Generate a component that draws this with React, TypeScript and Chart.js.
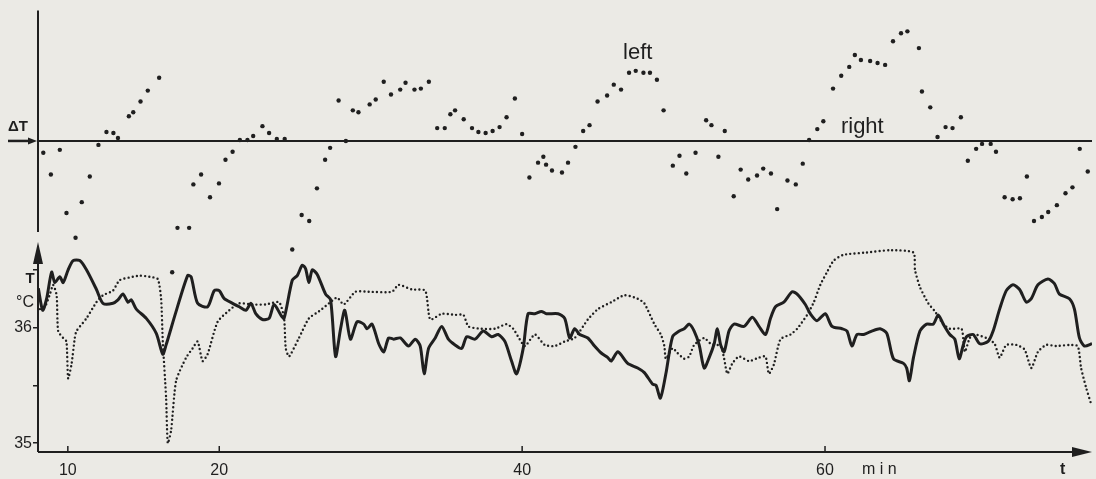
import { useEffect, useRef } from 'react';
import { Chart, registerables } from 'chart.js';
Chart.register(...registerables);

const PAPER = '#ebeae5';
const INK = '#1f1f1f';
const FONT = '"Liberation Sans", Arial, sans-serif';

// x axis (minutes)
const xTicks = [10, 20, 40, 60];
const xTickLabels = ['10', '20', '40', '60'];
// temperature axis (°C)
const tTicks = [35, 35.5, 36, 36.5];
const tTickLabels = ['35', '', '36', ''];

// ΔT (arbitrary units, 0 = baseline) : [minute, ΔT]
const deltaT: number[][] = [
  [8.38, -1.2], [8.88, -3.4], [9.47, -0.9], [9.91, -7.3], [10.51, -9.8], [10.92, -6.2], [11.45, -3.6], [12.02, -0.4],
  [12.55, 0.9], [13.01, 0.8], [13.31, 0.3], [14.03, 2.5], [14.32, 2.9], [14.8, 4.0], [15.28, 5.1], [16.03, 6.4],
  [16.89, -13.3], [17.24, -8.8], [18.01, -8.8], [18.29, -4.4], [18.8, -3.4], [19.39, -5.7], [19.98, -4.3], [20.41, -1.9],
  [20.88, -1.1], [21.36, 0.1], [21.86, 0.1], [22.24, 0.5], [22.85, 1.5], [23.29, 0.8], [23.8, 0.2], [24.32, 0.2],
  [24.82, -11.0], [25.44, -7.5], [25.94, -8.1], [26.45, -4.8], [26.99, -1.9], [27.32, -0.7], [27.88, 4.1], [28.36, 0.0],
  [28.82, 3.1], [29.19, 2.9], [29.93, 3.7], [30.33, 4.2], [30.86, 6.0], [31.34, 4.7], [31.95, 5.2], [32.3, 5.9],
  [32.89, 5.2], [33.31, 5.3], [33.84, 6.0], [34.39, 1.3], [34.89, 1.3], [35.26, 2.7], [35.57, 3.1], [36.14, 2.2],
  [36.69, 1.3], [37.11, 0.9], [37.59, 0.8], [38.05, 1.0], [38.51, 1.4], [38.97, 2.4], [39.52, 4.3], [40.0, 0.7],
  [40.48, -3.7], [41.05, -2.2], [41.4, -1.6], [41.58, -2.4], [41.97, -3.0], [42.63, -3.2], [43.03, -2.2], [43.52, -0.6],
  [44.03, 1.0], [44.45, 1.6], [44.98, 4.0], [45.61, 4.6], [46.05, 5.7], [46.53, 5.2], [47.06, 6.9], [47.5, 7.1],
  [48.01, 6.9], [48.44, 6.9], [48.9, 6.2], [49.34, 3.1], [49.95, -2.5], [50.39, -1.5], [50.84, -3.3], [51.45, -1.2],
  [52.15, 2.1], [52.5, 1.6], [52.96, -1.6], [53.38, 1.0], [53.97, -5.6], [54.43, -2.9], [54.93, -3.9], [55.51, -3.5],
  [55.92, -2.8], [56.43, -3.3], [56.84, -6.9], [57.52, -4.0], [58.07, -4.4], [58.53, -2.3], [58.95, 0.1], [59.49, 1.2],
  [59.89, 2.0], [60.53, 5.3], [61.07, 6.6], [61.6, 7.5], [61.97, 8.7], [62.37, 8.2], [62.98, 8.1], [63.47, 7.9],
  [63.97, 7.7], [64.49, 10.1], [65.02, 10.9], [65.44, 11.1], [66.2, 9.4], [66.4, 5.0], [66.95, 3.4], [67.43, 0.4],
  [67.96, 1.4], [68.42, 1.3], [68.97, 2.4], [69.43, -2.0], [69.98, -0.8], [70.37, -0.3], [70.94, -0.3], [71.29, -1.1],
  [71.86, -5.7], [72.39, -5.9], [72.87, -5.8], [73.33, -3.6], [73.8, -8.1], [74.32, -7.7], [74.74, -7.2], [75.31, -6.5],
  [75.88, -5.3], [76.34, -4.7], [76.82, -0.8], [77.35, -3.1],
];

// solid curve : [minute, °C]
const solidT: number[][] = [
  [8.05, 36.34], [8.34, 36.15], [8.6, 36.25], [8.93, 36.48], [9.14, 36.39], [9.47, 36.44], [9.69, 36.39], [10.02, 36.5],
  [10.35, 36.58], [10.79, 36.58], [11.23, 36.5], [11.89, 36.33], [12.32, 36.21], [12.98, 36.21], [13.31, 36.24], [13.64, 36.29],
  [13.97, 36.22], [14.19, 36.24], [14.52, 36.16], [15.18, 36.08], [15.84, 35.95], [16.27, 35.77], [16.49, 35.85], [17.15, 36.14],
  [17.91, 36.45], [18.14, 36.44], [18.57, 36.21], [19.23, 36.18], [19.67, 36.32], [20.0, 36.32], [20.33, 36.25], [20.88, 36.21],
  [21.32, 36.18], [21.76, 36.15], [22.09, 36.21], [22.41, 36.12], [22.85, 36.07], [23.29, 36.08], [23.62, 36.2], [24.06, 36.11],
  [24.28, 36.08], [24.82, 36.41], [25.15, 36.45], [25.48, 36.54], [25.7, 36.51], [25.92, 36.39], [26.14, 36.5], [26.47, 36.46],
  [27.02, 36.29], [27.35, 36.24], [27.68, 35.75], [28.01, 35.99], [28.29, 36.15], [28.66, 35.9], [29.1, 36.05], [29.54, 36.03],
  [29.76, 35.99], [30.09, 36.03], [30.53, 35.86], [30.86, 35.79], [31.18, 35.91], [31.51, 35.9], [31.95, 35.91], [32.5, 35.84],
  [32.94, 35.9], [33.27, 35.84], [33.53, 35.6], [33.82, 35.82], [34.26, 35.91], [34.69, 36.01], [35.13, 35.9], [35.57, 35.85],
  [36.01, 35.82], [36.34, 35.92], [36.89, 35.9], [37.43, 35.97], [37.98, 35.92], [38.42, 35.94], [38.86, 35.88], [39.3, 35.71],
  [39.63, 35.6], [40.07, 35.82], [40.39, 36.12], [40.84, 36.12], [41.27, 36.14], [41.6, 36.12], [42.37, 36.12], [42.81, 36.08],
  [43.14, 35.91], [43.47, 35.99], [43.8, 35.94], [44.34, 35.91], [44.78, 35.84], [45.22, 35.78], [45.66, 35.74], [45.88, 35.71],
  [46.32, 35.79], [46.97, 35.69], [47.63, 35.65], [48.07, 35.61], [48.62, 35.51], [48.84, 35.5], [49.13, 35.39], [49.49, 35.6],
  [49.93, 35.92], [50.38, 35.97], [50.7, 35.99], [51.03, 36.03], [51.36, 35.97], [51.69, 35.85], [52.02, 35.65], [52.35, 35.74],
  [52.68, 35.86], [52.89, 35.99], [53.11, 35.85], [53.34, 35.79], [53.66, 35.97], [53.99, 36.03], [54.65, 36.01], [55.2, 36.09],
  [55.64, 36.01], [56.07, 35.94], [56.4, 36.08], [56.73, 36.18], [57.28, 36.22], [57.83, 36.31], [58.16, 36.29], [58.7, 36.2],
  [59.03, 36.12], [59.47, 36.06], [60.02, 36.12], [60.46, 36.01], [61.12, 35.99], [61.45, 35.97], [61.78, 35.84], [62.11, 35.94],
  [62.55, 35.94], [63.09, 35.97], [63.64, 35.99], [64.08, 35.95], [64.52, 35.73], [65.18, 35.69], [65.39, 35.65], [65.57, 35.54],
  [65.84, 35.74], [66.27, 35.97], [66.71, 36.03], [67.15, 36.03], [67.48, 36.11], [67.81, 36.03], [68.24, 35.94], [68.57, 35.9],
  [68.86, 35.73], [69.13, 35.85], [69.34, 35.92], [69.78, 35.94], [70.22, 35.86], [70.77, 35.88], [71.1, 35.97], [71.53, 36.16],
  [71.97, 36.32], [72.41, 36.37], [72.85, 36.33], [73.29, 36.22], [73.62, 36.25], [74.06, 36.37], [74.72, 36.42], [75.15, 36.38],
  [75.48, 36.29], [76.14, 36.25], [76.47, 36.16], [76.8, 35.91], [77.13, 35.84], [77.63, 35.86],
];

// dotted curve : [minute, °C]
const dottedT: number[][] = [
  [8.16, 36.16], [8.49, 36.18], [8.82, 36.29], [9.03, 36.37], [9.26, 36.28], [9.36, 35.97], [9.69, 35.91], [9.91, 35.88],
  [10.02, 35.56], [10.24, 35.68], [10.46, 35.91], [10.57, 35.97], [11.23, 36.08], [11.89, 36.22], [12.32, 36.28], [12.98, 36.32],
  [13.42, 36.41], [14.3, 36.44], [14.74, 36.45], [15.39, 36.44], [15.94, 36.42], [16.16, 36.25], [16.27, 35.88], [16.49, 35.39],
  [16.6, 35.0], [16.82, 35.11], [17.15, 35.54], [17.81, 35.74], [18.24, 35.82], [18.57, 35.88], [18.9, 35.71], [19.23, 35.77],
  [19.89, 36.05], [20.66, 36.15], [21.32, 36.21], [22.19, 36.2], [23.07, 36.2], [23.95, 36.22], [24.28, 36.08], [24.39, 35.82],
  [24.61, 35.75], [25.26, 35.91], [25.92, 36.08], [26.58, 36.14], [27.24, 36.21], [27.78, 36.26], [28.22, 36.2], [28.99, 36.31],
  [29.87, 36.31], [31.4, 36.31], [31.84, 36.37], [32.72, 36.33], [33.6, 36.32], [33.93, 36.07], [34.69, 36.12], [35.57, 36.11],
  [36.12, 36.11], [36.45, 36.01], [37.32, 35.99], [38.2, 35.99], [38.97, 36.03], [39.41, 35.99], [39.74, 35.92], [40.18, 35.84],
  [40.84, 35.94], [41.49, 35.85], [42.15, 35.84], [42.81, 35.88], [43.47, 35.91], [44.34, 36.07], [45.0, 36.16], [45.88, 36.22],
  [46.76, 36.28], [47.63, 36.25], [48.07, 36.21], [48.73, 36.03], [49.16, 35.94], [49.39, 35.84], [49.49, 35.73], [49.93, 35.82],
  [50.26, 35.78], [50.7, 35.73], [51.03, 35.75], [51.36, 35.85], [52.02, 35.91], [52.45, 35.86], [53.11, 35.84], [53.34, 35.73],
  [53.55, 35.6], [53.88, 35.69], [54.32, 35.75], [54.98, 35.71], [55.64, 35.74], [56.07, 35.75], [56.29, 35.6], [56.62, 35.68],
  [57.06, 35.9], [57.72, 35.94], [58.16, 35.99], [58.82, 36.11], [59.26, 36.22], [59.69, 36.37], [60.13, 36.48], [60.57, 36.58],
  [61.23, 36.63], [62.76, 36.65], [64.3, 36.67], [65.84, 36.65], [65.94, 36.5], [66.27, 36.35], [66.82, 36.21], [67.26, 36.14],
  [67.81, 36.03], [68.24, 35.99], [69.01, 35.99], [69.13, 35.9], [69.24, 35.79], [69.56, 35.91], [69.89, 35.94], [70.66, 35.91],
  [71.2, 35.86], [71.53, 35.74], [71.97, 35.85], [72.63, 35.85], [73.18, 35.81], [73.62, 35.65], [74.06, 35.79], [74.61, 35.85],
  [75.26, 35.84], [76.14, 35.85], [76.69, 35.84], [76.91, 35.65], [77.24, 35.48], [77.57, 35.34],
];

const toXY = (arr: number[][]) => arr.map(([x, y]) => ({ x, y }));

const deco = {
  id: 'deco',
  beforeDraw(c: any) {
    const ctx = c.ctx;
    ctx.save();
    ctx.fillStyle = PAPER;
    ctx.fillRect(0, 0, c.width, c.height);
    ctx.restore();
  },
  afterDraw(c: any) {
    const { ctx, chartArea: ca, scales } = c;
    const xs = scales.x, yD = scales.yD;
    const line = (x1: number, y1: number, x2: number, y2: number) => {
      ctx.beginPath(); ctx.moveTo(x1, y1); ctx.lineTo(x2, y2); ctx.stroke();
    };
    const tri = (pts: number[][]) => {
      ctx.beginPath(); ctx.moveTo(pts[0][0], pts[0][1]);
      for (let i = 1; i < pts.length; i++) ctx.lineTo(pts[i][0], pts[i][1]);
      ctx.closePath(); ctx.fill();
    };
    ctx.save();
    ctx.strokeStyle = INK; ctx.fillStyle = INK; ctx.lineWidth = 2;
    const L = ca.left;
    // upper panel vertical axis
    line(L, ca.top, L, 232);
    // ΔT baseline
    const y0 = yD.getPixelForValue(0);
    line(L, y0, ca.right, y0);
    // ΔT arrow
    ctx.lineWidth = 2.5;
    line(8, y0, L - 6, y0);
    tri([[L - 1, y0], [L - 10, y0 - 3.5], [L - 10, y0 + 3.5]]);
    ctx.lineWidth = 2;
    // lower panel vertical axis with arrow
    line(L, ca.bottom, L, 258);
    tri([[L, 242], [L - 5, 264], [L + 5, 264]]);
    // x axis with arrow
    line(L, ca.bottom, ca.right - 14, ca.bottom);
    tri([[ca.right, ca.bottom], [ca.right - 20, ca.bottom - 5], [ca.right - 20, ca.bottom + 5]]);
    // x tick marks
    ctx.lineWidth = 1.5;
    for (const v of xTicks) {
      const px = xs.getPixelForValue(v);
      line(px, ca.bottom, px, ca.bottom - 6);
    }
    // texts
    ctx.textBaseline = 'alphabetic';
    ctx.font = `bold 15px ${FONT}`;
    ctx.textAlign = 'left';
    ctx.fillText('ΔT', 8, 131);
    ctx.font = `bold 15px ${FONT}`;
    ctx.textAlign = 'center';
    ctx.fillText('T', 30, 283);
    ctx.font = `16px ${FONT}`;
    ctx.textAlign = 'right';
    ctx.fillText('°C', 34, 307);
    ctx.font = `22px ${FONT}`;
    ctx.textAlign = 'center';
    ctx.fillText('left', xs.getPixelForValue(47.63), yD.getPixelForValue(8.3));
    ctx.textAlign = 'left';
    ctx.fillText('right', xs.getPixelForValue(61.05), yD.getPixelForValue(0.8));
    ctx.font = `16px ${FONT}`;
    ctx.fillText('m i n', 862, 474);
    ctx.font = `bold 16px ${FONT}`;
    ctx.fillText('t', 1060, 474);
    ctx.restore();
  },
};

export default function App() {
  const ref = useRef<HTMLCanvasElement>(null);
  useEffect(() => {
    document.body.style.margin = '0';
    document.body.style.background = PAPER;
    const chart = new Chart(ref.current!, {
      type: 'line',
      data: {
        datasets: [
          {
            label: 'ΔT',
            data: toXY(deltaT),
            yAxisID: 'yD',
            showLine: false,
            pointRadius: 2.2,
            pointBackgroundColor: INK,
            pointBorderWidth: 0,
          },
          {
            label: 'dotted',
            data: toXY(dottedT),
            yAxisID: 'yT',
            borderColor: INK,
            borderWidth: 2.4,
            borderDash: [0, 4.2],
            borderCapStyle: 'round',
            pointRadius: 0,
            tension: 0.2,
          },
          {
            label: 'solid',
            data: toXY(solidT),
            yAxisID: 'yT',
            borderColor: INK,
            borderWidth: 3,
            borderJoinStyle: 'round',
            pointRadius: 0,
            tension: 0.25,
          },
        ],
      },
      options: {
        responsive: false,
        animation: false,
        events: [],
        layout: { padding: { top: 5, left: 0, right: 0, bottom: 0 } },
        plugins: { legend: { display: false }, tooltip: { enabled: false } },
        scales: {
          x: {
            type: 'linear',
            min: 8.03,
            max: 77.63,
            afterBuildTicks: (s: any) => { s.ticks = xTicks.map((v) => ({ value: v })); },
            afterFit: (s: any) => { s.height = 27; },
            grid: { display: false },
            border: { display: false },
            ticks: {
              autoSkip: false,
              maxRotation: 0,
              padding: 1,
              color: INK,
              font: { family: FONT, size: 16 },
              callback: (_v: any, i: number) => xTickLabels[i],
            },
          },
          yT: {
            type: 'linear',
            position: 'left',
            min: 34.923,
            max: 38.744,
            afterBuildTicks: (s: any) => { s.ticks = tTicks.map((v) => ({ value: v })); },
            afterFit: (s: any) => { s.width = 38; },
            grid: { drawOnChartArea: false, drawTicks: true, tickLength: 5, color: INK, lineWidth: 1.5 },
            border: { display: false },
            ticks: {
              padding: 1,
              color: INK,
              font: { family: FONT, size: 16 },
              callback: (_v: any, i: number) => tTickLabels[i],
            },
          },
          yD: {
            type: 'linear',
            display: false,
            min: -31.5,
            max: 13.2,
          },
        },
      },
      plugins: [deco],
    } as any);
    return () => chart.destroy();
  }, []);
  return <canvas ref={ref} width={1096} height={479} style={{ display: 'block' }} />;
}
